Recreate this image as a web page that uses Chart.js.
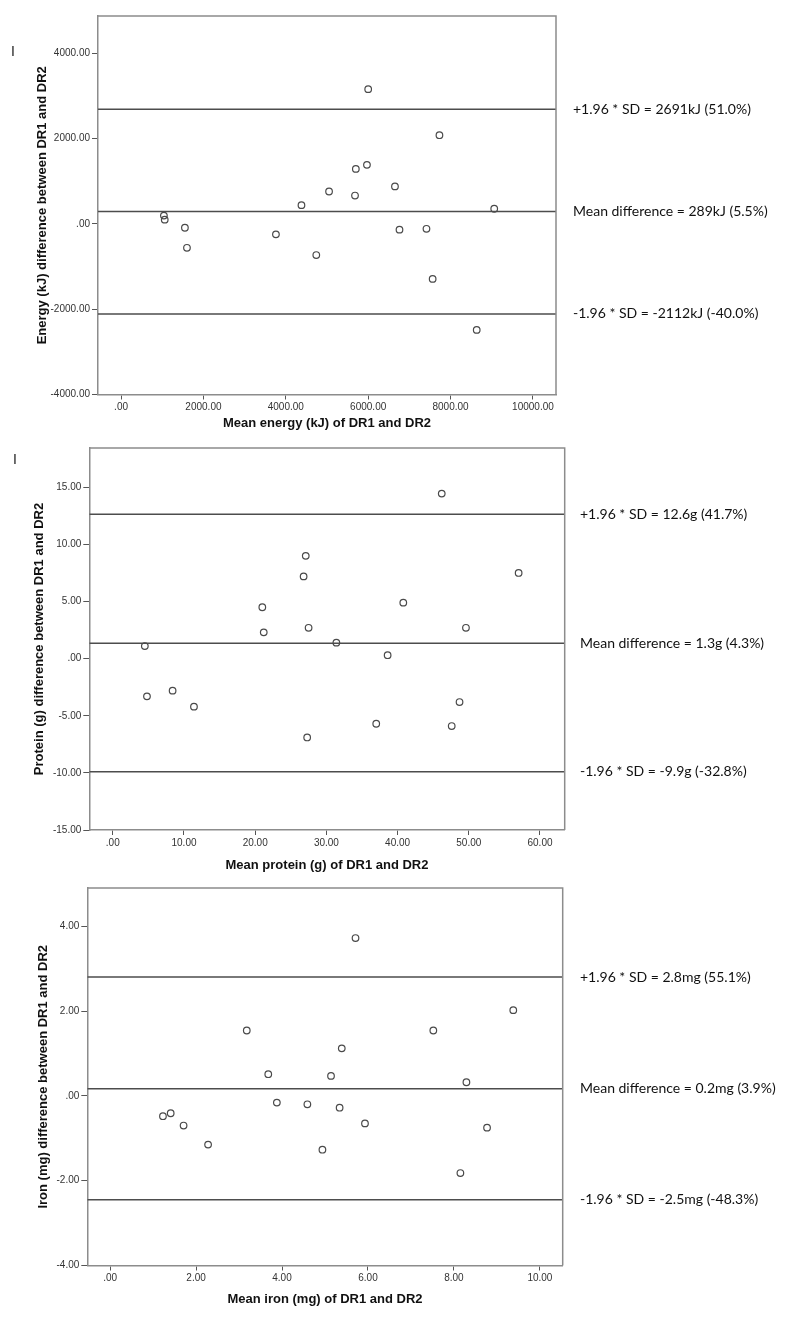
<!DOCTYPE html>
<html>
<head>
<meta charset="utf-8">
<script src="https://cdn.jsdelivr.net/npm/chart.js@4.4.1/dist/chart.umd.min.js"></script>
<style>
  body { margin: 0; background: #fff; }
  .panel { position: absolute; left: 0; width: 800px; }
  .mark { position: absolute; font: 14px "Liberation Sans", Arial, sans-serif; color: #222; }
</style>
</head>
<body>
<div class="panel" style="top:0;height:440px"><canvas id="energyChart"></canvas></div>
<div class="panel" style="top:440px;height:440px"><canvas id="proteinChart"></canvas></div>
<div class="panel" style="top:880px;height:442px"><canvas id="ironChart"></canvas></div>
<div class="mark" style="left:11px;top:43px">I</div>
<div class="mark" style="left:13px;top:451px">I</div>
<script>
// Energy (kJ)
const energyMean = [6000, 7730, 5700, 5970, 6650, 5050, 5680, 4380, 9060, 1040, 1060, 1550, 1600, 3760, 4740, 6760, 7415, 7565, 8635];
const energyDiff = [3160, 2080, 1290, 1385, 880, 760, 665, 440, 355, 195, 100, -90, -560, -245, -730, -135, -115, -1290, -2485];
const energyLimits = [2691, 289, -2112];
const energyLabels = ['+1.96 * SD = 2691kJ (51.0%)', 'Mean difference = 289kJ (5.5%)', '-1.96 * SD = -2112kJ (-40.0%)'];
const energyXTicks = [0, 2000, 4000, 6000, 8000, 10000];
const energyYTicks = [-4000, -2000, 0, 2000, 4000];

// Protein (g)
const proteinMean = [4.5, 4.8, 8.4, 11.4, 21.0, 21.2, 26.8, 27.1, 27.5, 27.3, 31.4, 37.0, 38.6, 40.8, 46.2, 47.6, 48.7, 49.6, 57.0];
const proteinDiff = [1.1, -3.3, -2.8, -4.2, 4.5, 2.3, 7.2, 9.0, 2.7, -6.9, 1.4, -5.7, 0.3, 4.9, 14.45, -5.9, -3.8, 2.7, 7.5];
const proteinLimits = [12.65, 1.35, -9.9];
const proteinLabels = ['+1.96 * SD = 12.6g (41.7%)', 'Mean difference = 1.3g (4.3%)', '-1.96 * SD = -9.9g (-32.8%)'];
const proteinXTicks = [0, 10, 20, 30, 40, 50, 60];
const proteinYTicks = [-15, -10, -5, 0, 5, 10, 15];

// Iron (mg)
const ironMean = [1.23, 1.41, 1.71, 2.28, 3.18, 3.68, 3.88, 4.59, 4.94, 5.14, 5.34, 5.39, 5.71, 5.93, 7.52, 8.15, 8.29, 8.77, 9.38];
const ironDiff = [-0.48, -0.41, -0.70, -1.15, 1.54, 0.51, -0.16, -0.20, -1.27, 0.47, -0.28, 1.12, 3.72, -0.65, 1.54, -1.82, 0.32, -0.75, 2.02];
const ironLimits = [2.8, 0.17, -2.45];
const ironLabels = ['+1.96 * SD = 2.8mg (55.1%)', 'Mean difference = 0.2mg (3.9%)', '-1.96 * SD = -2.5mg (-48.3%)'];
const ironXTicks = [0, 2, 4, 6, 8, 10];
const ironYTicks = [-4, -2, 0, 2, 4];

const tickFont = { family: '"Liberation Sans", Arial, sans-serif', size: 10 };
const titleFont = { family: '"Liberation Sans", Arial, sans-serif', size: 13, weight: 'bold' };

function fmt(v) {
  const s = Number(v).toFixed(2);
  return s === '0.00' || s === '-0.00' ? '.00' : s;
}

// box frame (top/right) + limit labels at the right
const extras = {
  id: 'extras',
  afterDatasetsDraw(chart, args, opts) {
    const { ctx, chartArea: a, scales: { y } } = chart;
    ctx.save();
    ctx.strokeStyle = '#8c8c8c';
    ctx.lineWidth = 1.5;
    ctx.beginPath();
    ctx.moveTo(a.left, a.top);
    ctx.lineTo(a.right, a.top);
    ctx.lineTo(a.right, a.bottom);
    ctx.stroke();
    ctx.fillStyle = '#111';
    ctx.font = '14px Lato, "Open Sans", sans-serif';
    ctx.textBaseline = 'middle';
    opts.values.forEach((v, i) => ctx.fillText(opts.labels[i], a.right + opts.gap, y.getPixelForValue(v)));
    ctx.restore();
  }
};

function makeChart(id, p) {
  const points = p.mean.map((m, i) => ({ x: m, y: p.diff[i] }));
  const lines = p.limits.map(v => ({
    data: [{ x: p.x[0], y: v }, { x: p.x[1], y: v }],
    showLine: true,
    borderColor: '#4d4d4d',
    borderWidth: 1.5,
    pointRadius: 0
  }));
  return new Chart(document.getElementById(id), {
    type: 'scatter',
    data: {
      datasets: [{
        data: points,
        pointRadius: 3.3,
        pointBorderWidth: 1.2,
        pointBorderColor: '#4a4a4a',
        pointBackgroundColor: 'rgba(255,255,255,0)'
      }, ...lines]
    },
    options: {
      responsive: true,
      maintainAspectRatio: false,
      animation: false,
      layout: { padding: { top: p.padTop, right: p.padRight, left: 0, bottom: 0 } },
      plugins: {
        legend: { display: false },
        tooltip: { enabled: false },
        extras: { values: p.limits, labels: p.labels, gap: p.gap }
      },
      scales: {
        x: {
          min: p.x[0], max: p.x[1],
          afterBuildTicks: s => { s.ticks = p.xTicks.map(v => ({ value: v })); },
          afterFit: s => { s.height = p.xHeight; },
          border: { display: true, color: '#8c8c8c', width: 1.5 },
          grid: { drawOnChartArea: false, drawTicks: true, tickLength: 5, color: '#555' },
          ticks: { autoSkip: false, maxRotation: 0, padding: 2, color: '#333', font: tickFont, callback: fmt },
          title: { display: true, text: p.xTitle, color: '#111', font: titleFont, padding: { top: 0, bottom: p.xTitlePad } }
        },
        y: {
          min: p.y[0], max: p.y[1],
          afterBuildTicks: s => { s.ticks = p.yTicks.map(v => ({ value: v })); },
          afterFit: s => { s.width = p.yWidth; },
          border: { display: true, color: '#8c8c8c', width: 1.5 },
          grid: { drawOnChartArea: false, drawTicks: true, tickLength: 6, color: '#555' },
          ticks: { autoSkip: false, padding: 2, color: '#333', font: tickFont, callback: fmt },
          title: { display: true, text: p.yTitle, color: '#111', font: titleFont, padding: { top: p.yTitlePad, bottom: 0 } }
        }
      }
    },
    plugins: [extras]
  });
}

makeChart('energyChart', {
  mean: energyMean, diff: energyDiff, limits: energyLimits, labels: energyLabels,
  x: [-560, 10560], y: [-4000, 4875], xTicks: energyXTicks, yTicks: energyYTicks,
  xTitle: 'Mean energy (kJ) of DR1 and DR2', yTitle: 'Energy (kJ) difference between DR1 and DR2',
  padTop: 16, padRight: 244, yWidth: 98, xHeight: 45.5, xTitlePad: 9.2, yTitlePad: 34.2, gap: 17
});

makeChart('proteinChart', {
  mean: proteinMean, diff: proteinDiff, limits: proteinLimits, labels: proteinLabels,
  x: [-3.3, 63.47], y: [-15, 18.44], xTicks: proteinXTicks, yTicks: proteinYTicks,
  xTitle: 'Mean protein (g) of DR1 and DR2', yTitle: 'Protein (g) difference between DR1 and DR2',
  padTop: 7.3, padRight: 235.3, yWidth: 89.3, xHeight: 50, xTitlePad: 7.2, yTitlePad: 31.2, gap: 15.3
});

makeChart('ironChart', {
  mean: ironMean, diff: ironDiff, limits: ironLimits, labels: ironLabels,
  x: [-0.53, 10.53], y: [-4, 4.9], xTicks: ironXTicks, yTicks: ironYTicks,
  xTitle: 'Mean iron (mg) of DR1 and DR2', yTitle: 'Iron (mg) difference between DR1 and DR2',
  padTop: 6.7, padRight: 237.3, yWidth: 87.3, xHeight: 56.5, xTitlePad: 15.2, yTitlePad: 35.2, gap: 17.3
});
</script>
</body>
</html>
